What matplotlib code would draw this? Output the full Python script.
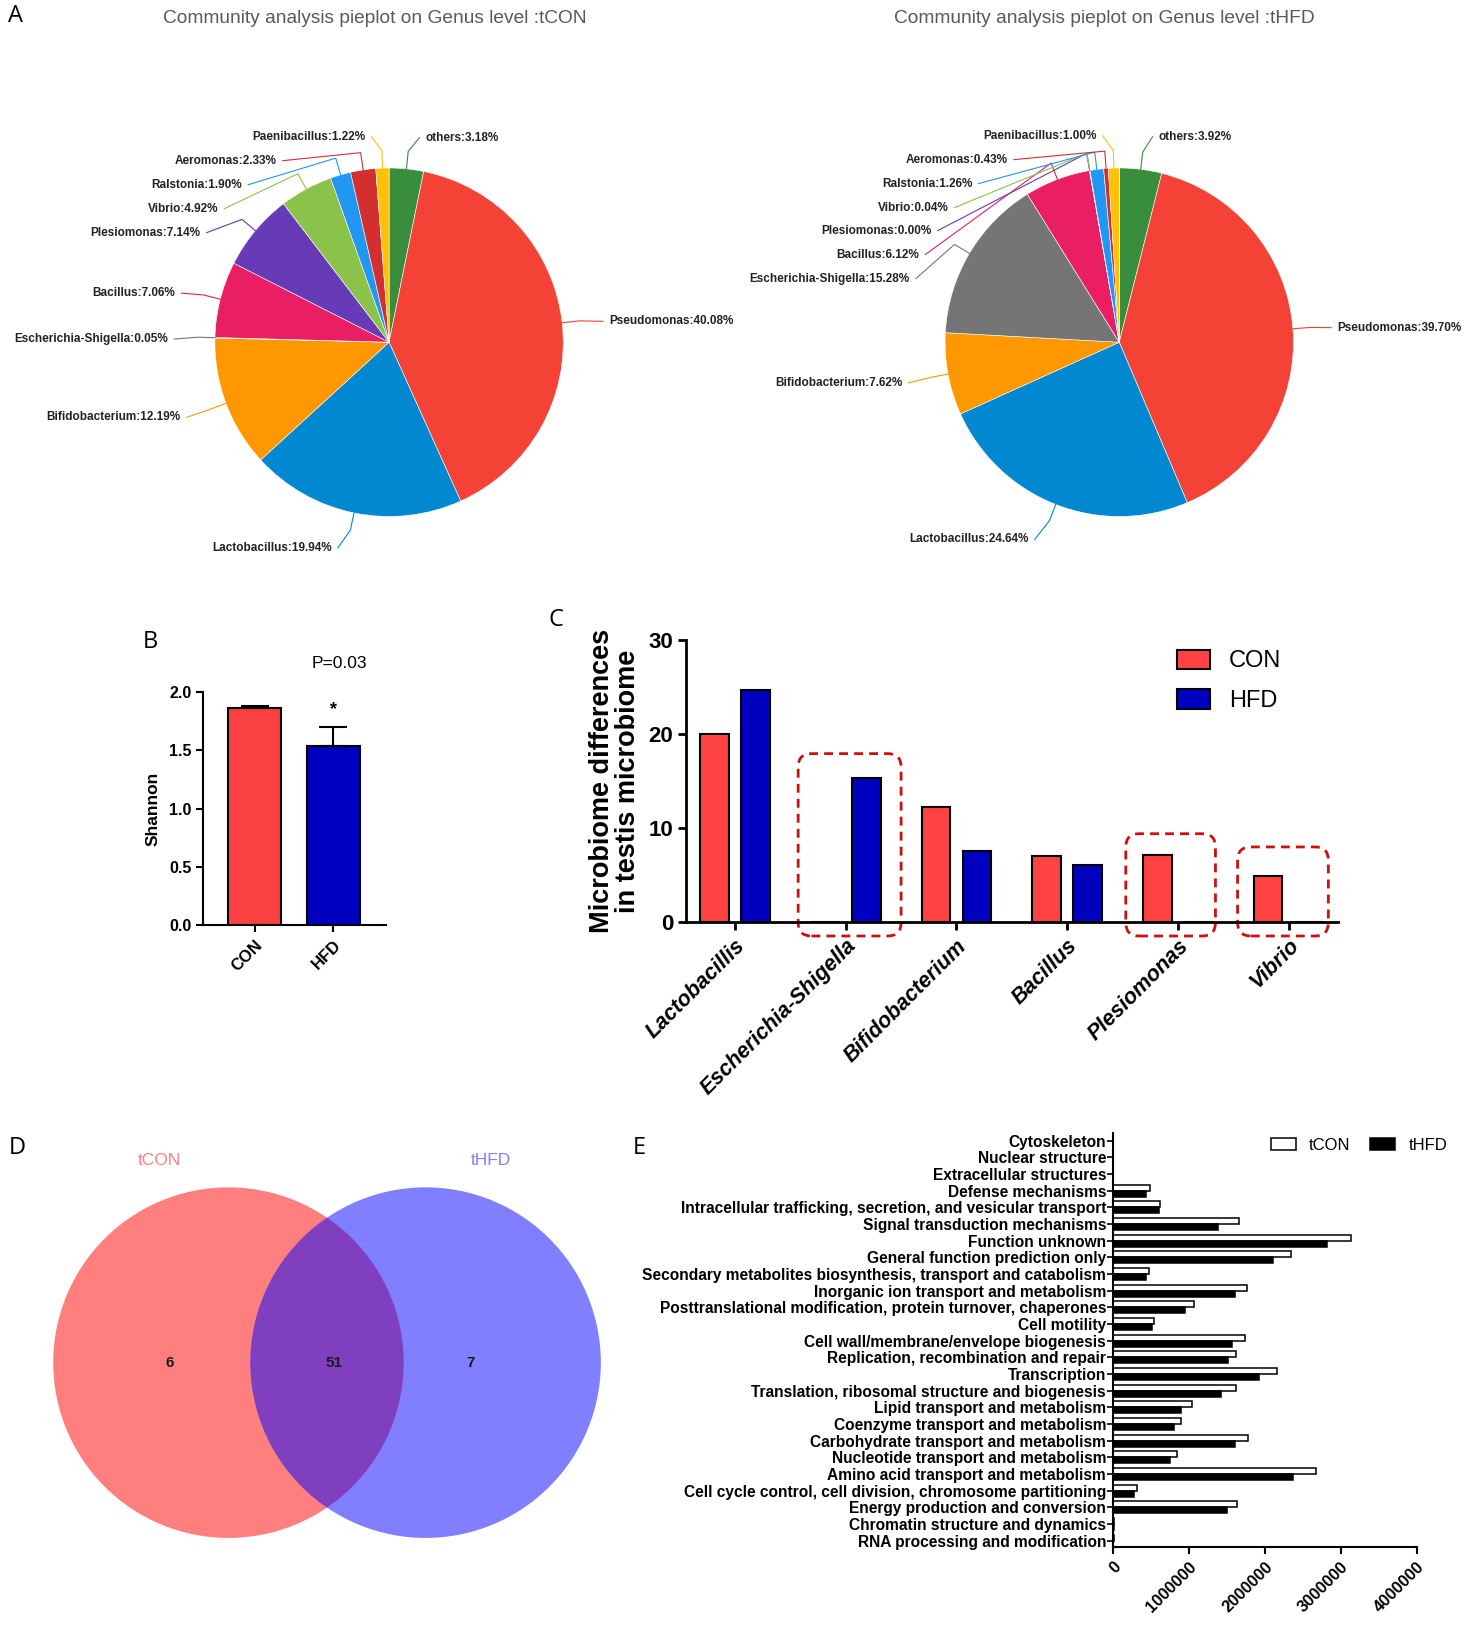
import numpy as np
import matplotlib
matplotlib.use("Agg")
import matplotlib.pyplot as plt
from matplotlib.patches import Circle, FancyBboxPatch

# ---- data ----
# A: genus composition (clockwise from 12 o'clock)
genera = ["others", "Pseudomonas", "Lactobacillus", "Bifidobacterium", "Escherichia-Shigella",
          "Bacillus", "Plesiomonas", "Vibrio", "Ralstonia", "Aeromonas", "Paenibacillus"]
pct_tcon = [3.18, 40.08, 19.94, 12.19, 0.05, 7.06, 7.14, 4.92, 1.90, 2.33, 1.22]
pct_thfd = [3.92, 39.70, 24.64, 7.62, 15.28, 6.12, 0.00, 0.04, 1.26, 0.43, 1.00]
genus_colors = ["#388E3C", "#F44336", "#0288D1", "#FF9800", "#757575", "#E91E63",
                "#673AB7", "#8BC34A", "#2196F3", "#D32F2F", "#FFC107"]

# B: Shannon index
shannon_groups = ["CON", "HFD"]
shannon_mean = [1.86, 1.54]
shannon_err = [0.02, 0.16]

# C: selected genera
diff_genera = ["Lactobacillis", "Escherichia-Shigella", "Bifidobacterium", "Bacillus", "Plesiomonas", "Vibrio"]
diff_con = [19.94, 0.05, 12.19, 7.06, 7.14, 4.92]
diff_hfd = [24.64, 15.28, 7.62, 6.12, 0.00, 0.04]
boxed = [1, 4, 5]

# D: Venn counts (tCON only, shared, tHFD only)
venn_counts = [6, 51, 7]

# E: COG functional categories
cog_names = ["Cytoskeleton", "Nuclear structure", "Extracellular structures", "Defense mechanisms",
             "Intracellular trafficking, secretion, and vesicular transport", "Signal transduction mechanisms",
             "Function unknown", "General function prediction only",
             "Secondary metabolites biosynthesis, transport and catabolism",
             "Inorganic ion transport and metabolism",
             "Posttranslational modification, protein turnover, chaperones", "Cell motility",
             "Cell wall/membrane/envelope biogenesis", "Replication, recombination and repair",
             "Transcription", "Translation, ribosomal structure and biogenesis",
             "Lipid transport and metabolism", "Coenzyme transport and metabolism",
             "Carbohydrate transport and metabolism", "Nucleotide transport and metabolism",
             "Amino acid transport and metabolism", "Cell cycle control, cell division, chromosome partitioning",
             "Energy production and conversion", "Chromatin structure and dynamics",
             "RNA processing and modification"]
cog_tcon = [3e3, 0, 0, 0.49e6, 0.62e6, 1.66e6, 3.14e6, 2.34e6, 0.48e6, 1.77e6, 1.07e6, 0.54e6, 1.74e6,
            1.62e6, 2.16e6, 1.62e6, 1.04e6, 0.90e6, 1.78e6, 0.84e6, 2.67e6, 0.32e6, 1.63e6, 1.2e4, 8e3]
cog_thfd = [2e3, 0, 0, 0.44e6, 0.60e6, 1.39e6, 2.82e6, 2.11e6, 0.44e6, 1.61e6, 0.95e6, 0.51e6, 1.57e6,
            1.51e6, 1.93e6, 1.42e6, 0.90e6, 0.81e6, 1.61e6, 0.75e6, 2.37e6, 0.28e6, 1.50e6, 1.0e4, 6e3]

# ---- layout helpers (reference pixel grid) ----
W, H = 1415.0, 1568.0
NARROW = ["Liberation Sans Narrow", "Liberation Sans"]
ARIAL = ["Liberation Sans", "DejaVu Sans"]
plt.rcParams["font.family"] = ARIAL


def box(x0, y0, x1, y1):
    return [x0 / W, 1 - y1 / H, (x1 - x0) / W, (y1 - y0) / H]


fig = plt.figure(figsize=(14.76, 16.36), dpi=100)

for letter, (lx, ly) in zip("ABCDE", [(8, 15), (137, 615), (526, 594), (8, 1100), (607, 1100)]):
    fig.text(lx / W, 1 - ly / H, letter, fontsize=17, family=["Open Sans", "DejaVu Sans"],
             ha="left", va="center")

# ---- A: pies ----
axA = fig.add_axes(box(0, 0, W, 560))
R = 167
label_xy_tcon = [(408, 132), (584, 308), (318, 525), (173, 400), (161, 325), (168, 281),
                 (192, 223), (209, 200), (232, 177), (265, 154), (350, 131)]
label_xy_thfd = [(1111, 131), (1282, 314), (986, 517), (865, 367), (872, 267), (881, 244),
                 (893, 221), (909, 199), (932, 176), (966, 153), (1051, 130)]


def draw_pie(vals, cx, cy, label_xy, title):
    axA.pie(vals, colors=genus_colors, startangle=90, counterclock=False, radius=R, center=(cx, -cy),
            wedgeprops=dict(edgecolor="white", linewidth=0.4))
    start = np.cumsum([0] + vals[:-1])
    for name, v, s, col, (lx, ly) in zip(genera, vals, start, genus_colors, label_xy):
        ang = np.deg2rad(90 - 360 * (s + v / 2) / 100.0)
        ex, ey = cx + R * np.cos(ang), -cy + R * np.sin(ang)
        kx, ky = cx + 1.1 * R * np.cos(ang), -cy + 1.1 * R * np.sin(ang)
        right = lx > cx
        tx = lx - 6 if right else lx + 6
        axA.plot([ex, kx, tx], [ey, ky, -ly], color=col, lw=0.8)
        axA.text(lx, -ly, f"{name}:{v:.2f}%", ha="left" if right else "right", va="center",
                 fontsize=8.5, fontweight="bold", family=NARROW, color="#222222")
    axA.text(cx - 14, -18, title, ha="center", va="center", fontsize=13.8, color="#595959")


draw_pie(pct_tcon, 373, 328, label_xy_tcon, "Community analysis pieplot on Genus level :tCON")
draw_pie(pct_thfd, 1073, 328, label_xy_thfd, "Community analysis pieplot on Genus level :tHFD")
axA.set_xlim(0, W)
axA.set_ylim(-560, 0)
axA.set_aspect("auto")
axA.axis("off")

# ---- B: Shannon ----
axB = fig.add_axes(box(195, 663, 370, 887))
xb = np.arange(len(shannon_groups))
axB.bar(xb, shannon_mean, width=0.67, color=["#FA4040", "#0000C0"], edgecolor="black", linewidth=1.5,
        yerr=[[0, 0], shannon_err], capsize=10, error_kw=dict(elinewidth=1.5, capthick=1.5))
axB.set_xlim(-0.65, 1.67)
axB.set_ylim(0, 2.0)
axB.set_yticks([0, 0.5, 1.0, 1.5, 2.0])
axB.set_yticklabels(["0.0", "0.5", "1.0", "1.5", "2.0"], fontweight="bold", fontsize=11.5)
axB.set_xticks(xb)
axB.set_xticklabels(shannon_groups, rotation=45, ha="right", rotation_mode="anchor",
                    fontweight="bold", fontsize=12)
axB.set_ylabel("Shannon", fontweight="bold", fontsize=12.5, labelpad=6)
for s in ["top", "right"]:
    axB.spines[s].set_visible(False)
for s in ["left", "bottom"]:
    axB.spines[s].set_linewidth(1.5)
axB.tick_params(width=1.5, length=5)
axB.text(1, shannon_mean[1] + shannon_err[1] + 0.15, "*", ha="center", va="center",
         fontsize=13, fontweight="bold")
axB.text(1.08, 2.24, "P=0.03", ha="center", va="center", fontsize=12.5, clip_on=False)

# ---- C: genus differences ----
axC = fig.add_axes(box(658, 613, 1283, 884))
xc = np.arange(len(diff_genera))
axC.bar(xc - 0.185, diff_con, width=0.26, color="#FF4242", edgecolor="black", linewidth=1.5, label="CON")
axC.bar(xc + 0.185, diff_hfd, width=0.26, color="#0000C0", edgecolor="black", linewidth=1.5, label="HFD")
axC.set_xlim(-0.44, 5.45)
axC.set_ylim(0, 30)
axC.set_yticks([0, 10, 20, 30])
axC.set_yticklabels(["0", "10", "20", "30"], fontweight="bold", fontsize=16, family=NARROW)
axC.set_xticks(xc)
axC.set_xticklabels(diff_genera, rotation=45, ha="right", rotation_mode="anchor",
                    fontweight="bold", fontstyle="italic", fontsize=15.5)
axC.set_ylabel("Microbiome differences\nin testis microbiome", fontweight="bold", fontsize=19.5,
               linespacing=1.0, labelpad=5)
for s in ["top", "right"]:
    axC.spines[s].set_visible(False)
for s in ["left", "bottom"]:
    axC.spines[s].set_linewidth(2)
axC.tick_params(width=2, length=6)
box_extent = {1: (-0.43, 0.50, 17.9), 4: (-0.47, 0.34, 9.4), 5: (-0.46, 0.36, 8.0)}
px_x = (1283 - 658) / (5.45 + 0.44)
px_y = (884 - 613) / 30.0
for i in boxed:
    a, b, top = box_extent[i]
    axC.add_patch(FancyBboxPatch((i + a, -1.45), b - a, top + 1.45,
                                 boxstyle="round,pad=0,rounding_size=0.12", mutation_aspect=px_x / px_y,
                                 fill=False, edgecolor="#CC1010", linestyle=(0, (3.2, 2.2)), linewidth=2,
                                 clip_on=False))
axC.legend(loc="upper left", bbox_to_anchor=(0.72, 1.04), frameon=False,
           handlelength=1.4, handleheight=0.9, labelspacing=0.7, prop=dict(family=NARROW, size=17))

# ---- D: Venn ----
axD = fig.add_axes(box(0, 1090, 620, 1500))
c_left = Circle((219, -1306), 168, facecolor="#FF7F7F", edgecolor="none")
c_right = Circle((408, -1306), 168, facecolor="#7F7FFF", edgecolor="none")
c_mid = Circle((408, -1306), 168, facecolor="#803FBF", edgecolor="none")
axD.add_patch(c_left)
axD.add_patch(c_right)
axD.add_patch(c_mid)
c_mid.set_clip_path(c_left)
for n, x in zip(venn_counts, [163, 320, 451]):
    axD.text(x, -1306, str(n), ha="center", va="center", fontsize=11, fontweight="bold",
             family=NARROW, color="#1a1a1a")
axD.text(153, -1112, "tCON", ha="center", va="center", fontsize=12.5, color="#FF8080", family=NARROW)
axD.text(471, -1112, "tHFD", ha="center", va="center", fontsize=12.5, color="#8080FF", family=NARROW)
axD.set_xlim(0, 620)
axD.set_ylim(-1500, -1090)
axD.axis("off")

# ---- E: COG bars ----
axE = fig.add_axes(box(1067, 1086, 1358, 1483))
ye = np.arange(len(cog_names))
axE.barh(ye - 0.18, cog_tcon, height=0.36, color="white", edgecolor="black", linewidth=1.1, label="tCON")
axE.barh(ye + 0.18, cog_thfd, height=0.36, color="black", edgecolor="black", linewidth=1.1, label="tHFD")
axE.set_ylim(len(cog_names) - 0.6, -0.45)
axE.set_xlim(0, 4e6)
axE.set_yticks(ye)
axE.set_yticklabels(cog_names, fontweight="bold", fontsize=11.2, family=NARROW)
axE.set_xticks([0, 1e6, 2e6, 3e6, 4e6])
axE.set_xticklabels(["0", "1000000", "2000000", "3000000", "4000000"], rotation=45, ha="right",
                    rotation_mode="anchor", fontweight="bold", fontsize=12)
for s in ["top", "right"]:
    axE.spines[s].set_visible(False)
for s in ["left", "bottom"]:
    axE.spines[s].set_linewidth(1.5)
axE.tick_params(axis="y", width=1.2, length=4, pad=1)
axE.tick_params(axis="x", width=1.5, length=5)
axE.legend(loc="upper left", bbox_to_anchor=(0.47, 1.025), ncol=2, frameon=False, handlelength=1.5,
           handleheight=0.7, columnspacing=1.2, prop=dict(family=NARROW, size=12))

fig.savefig("out.png", dpi=100)
